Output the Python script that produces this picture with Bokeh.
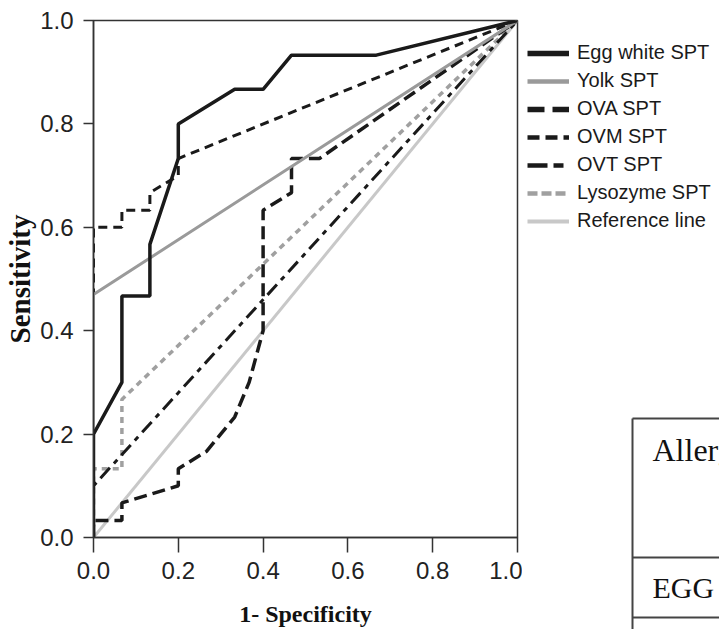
from bokeh.plotting import figure
from bokeh.layouts import row
from bokeh.models import (Legend, LegendItem, Range1d, FixedTicker,
                          PrintfTickFormatter, Label)
from bokeh.embed import file_html
from bokeh.resources import INLINE

# ROC curves: 1 - specificity (false positive rate) vs sensitivity
egg_white_fpr = [0.0, 0.0, 0.067, 0.067, 0.133, 0.133, 0.2, 0.2, 0.333, 0.4, 0.467, 0.667, 1.0]
egg_white_tpr = [0.0, 0.2, 0.3, 0.467, 0.467, 0.567, 0.733, 0.8, 0.867, 0.867, 0.933, 0.933, 1.0]

yolk_fpr = [0.0, 0.0, 1.0]
yolk_tpr = [0.0, 0.47, 1.0]

ova_fpr = [0.0, 0.0, 0.067, 0.067, 0.2, 0.2, 0.267, 0.3, 0.333, 0.367, 0.4, 0.4, 0.467, 0.467, 0.533, 1.0]
ova_tpr = [0.0, 0.033, 0.033, 0.067, 0.1, 0.133, 0.167, 0.2, 0.233, 0.3, 0.4, 0.633, 0.667, 0.733, 0.733, 1.0]

ovm_fpr = [0.0, 0.0, 0.067, 0.067, 0.133, 0.133, 0.2, 0.2, 1.0]
ovm_tpr = [0.0, 0.6, 0.6, 0.633, 0.633, 0.667, 0.7, 0.733, 1.0]

ovt_fpr = [0.0, 0.0, 1.0]
ovt_tpr = [0.0, 0.1, 1.0]

lysozyme_fpr = [0.0, 0.0, 0.067, 0.067, 1.0]
lysozyme_tpr = [0.0, 0.133, 0.133, 0.267, 1.0]

reference_fpr = [0.0, 1.0]
reference_tpr = [0.0, 1.0]

tick_values = [0.0, 0.2, 0.4, 0.6, 0.8, 1.0]

series_labels = ["Egg white SPT", "Yolk SPT", "OVA SPT", "OVM SPT",
                 "OVT SPT", "Lysozyme SPT", "Reference line"]

table_header = "Allergen"
table_first_row = "EGG"

SANS = "Liberation Sans"
SERIF = "Liberation Serif"
AXIS = "#333333"
DARK = "#1a1a1a"
YOLK_GREY = "#9a9a9a"
LYSO_GREY = "#a0a0a0"
REF_GREY = "#c8c8c8"

# line styles of the plotted curves
styles = {
    "Egg white SPT": dict(line_color=DARK, line_width=3.5),
    "Yolk SPT": dict(line_color=YOLK_GREY, line_width=3),
    "OVA SPT": dict(line_color=DARK, line_width=3.5, line_dash="13 6"),
    "OVM SPT": dict(line_color=DARK, line_width=3, line_dash="9 6"),
    "OVT SPT": dict(line_color=DARK, line_width=3, line_dash="14 6 5 6"),
    "Lysozyme SPT": dict(line_color=LYSO_GREY, line_width=3.5, line_dash="6 5"),
    "Reference line": dict(line_color=REF_GREY, line_width=3),
}

# the legend keys are drawn a little heavier than the curves
key_styles = {
    "Egg white SPT": dict(line_color=DARK, line_width=5.5),
    "Yolk SPT": dict(line_color=YOLK_GREY, line_width=4.5),
    "OVA SPT": dict(line_color=DARK, line_width=5.5, line_dash="17 8"),
    "OVM SPT": dict(line_color=DARK, line_width=4.5, line_dash="12 6"),
    "OVT SPT": dict(line_color=DARK, line_width=4.5, line_dash="20 6 10 6"),
    "Lysozyme SPT": dict(line_color=LYSO_GREY, line_width=4.5, line_dash="10 4"),
    "Reference line": dict(line_color=REF_GREY, line_width=4),
}

curves = {
    "Egg white SPT": (egg_white_fpr, egg_white_tpr),
    "Yolk SPT": (yolk_fpr, yolk_tpr),
    "OVA SPT": (ova_fpr, ova_tpr),
    "OVM SPT": (ovm_fpr, ovm_tpr),
    "OVT SPT": (ovt_fpr, ovt_tpr),
    "Lysozyme SPT": (lysozyme_fpr, lysozyme_tpr),
    "Reference line": (reference_fpr, reference_tpr),
}

# ---- ROC panel ----
p = figure(width=522, height=629, output_backend="svg", toolbar_location=None,
           x_range=Range1d(0, 1), y_range=Range1d(0, 1),
           min_border_left=93, min_border_right=5,
           min_border_top=20, min_border_bottom=91,
           background_fill_color="white", border_fill_color="white")
p.grid.visible = False
p.outline_line_color = AXIS
p.outline_line_width = 1.5

for ax in (p.xaxis[0], p.yaxis[0]):
    ax.ticker = FixedTicker(ticks=tick_values)
    ax.formatter = PrintfTickFormatter(format="%.1f")
    ax.minor_tick_line_color = None
    ax.major_tick_in = 0
    ax.axis_line_color = AXIS
    ax.axis_line_width = 1.5
    ax.major_tick_line_color = AXIS
    ax.major_tick_line_width = 1.5
    ax.major_label_text_font = SANS
    ax.major_label_text_font_size = "24px"
    ax.major_label_text_color = "#222222"
    ax.axis_label_text_font = SERIF
    ax.axis_label_text_font_style = "bold"
    ax.axis_label_text_color = "#111111"

p.xaxis.major_tick_out = 15
p.xaxis.major_label_standoff = 9
p.xaxis.axis_label = "1- Specificity"
p.xaxis.axis_label_text_font_size = "24px"
p.xaxis.axis_label_standoff = 19

p.yaxis.major_tick_out = 10
p.yaxis.major_label_standoff = 10
p.yaxis.axis_label = "Sensitivity"
p.yaxis.axis_label_text_font_size = "29px"
p.yaxis.axis_label_standoff = 1

# draw from back to front
for name in reversed(series_labels):
    xs, ys = curves[name]
    p.line(xs, ys, **styles[name])

# ---- side panel: legend and the edge of the adjacent table ----
side = figure(frame_width=197, frame_height=629, output_backend="svg",
              toolbar_location=None, frame_align=False,
              x_range=Range1d(522, 719), y_range=Range1d(629, 0),
              min_border=0, background_fill_color="white",
              border_fill_color="white")
side.axis.visible = False
side.grid.visible = False
side.outline_line_color = None

nan = float("nan")
items = []
for name in series_labels:
    key = side.line([nan], [nan], **key_styles[name])
    items.append(LegendItem(label=name, renderers=[key]))

legend = Legend(
    items=items, location=(5, 397), orientation="vertical",
    border_line_color=None, background_fill_alpha=0,
    glyph_width=42, glyph_height=20, label_height=20, spacing=5,
    label_standoff=8, padding=0, margin=0,
    label_text_font=SANS, label_text_font_size="20px",
    label_text_color=DARK,
)
side.add_layout(legend)

table_left = 632
table_rules = [418, 557, 617]
side.segment(x0=[table_left], y0=[table_rules[0]], x1=[table_left], y1=[629],
             line_color="#444444", line_width=2)
side.segment(x0=[table_left] * 3, y0=table_rules, x1=[719] * 3, y1=table_rules,
             line_color="#444444", line_width=2)

side.add_layout(Label(x=652, y=449, text=table_header, text_font=SERIF,
                      text_font_size="32px", text_color="#111111",
                      text_baseline="alphabetic"))
side.add_layout(Label(x=652, y=587, text=table_first_row, text_font=SERIF,
                      text_font_size="30px", text_color="#111111",
                      text_baseline="alphabetic"))

layout = row(p, side)
open("out.html", "w").write(file_html(layout, INLINE))
